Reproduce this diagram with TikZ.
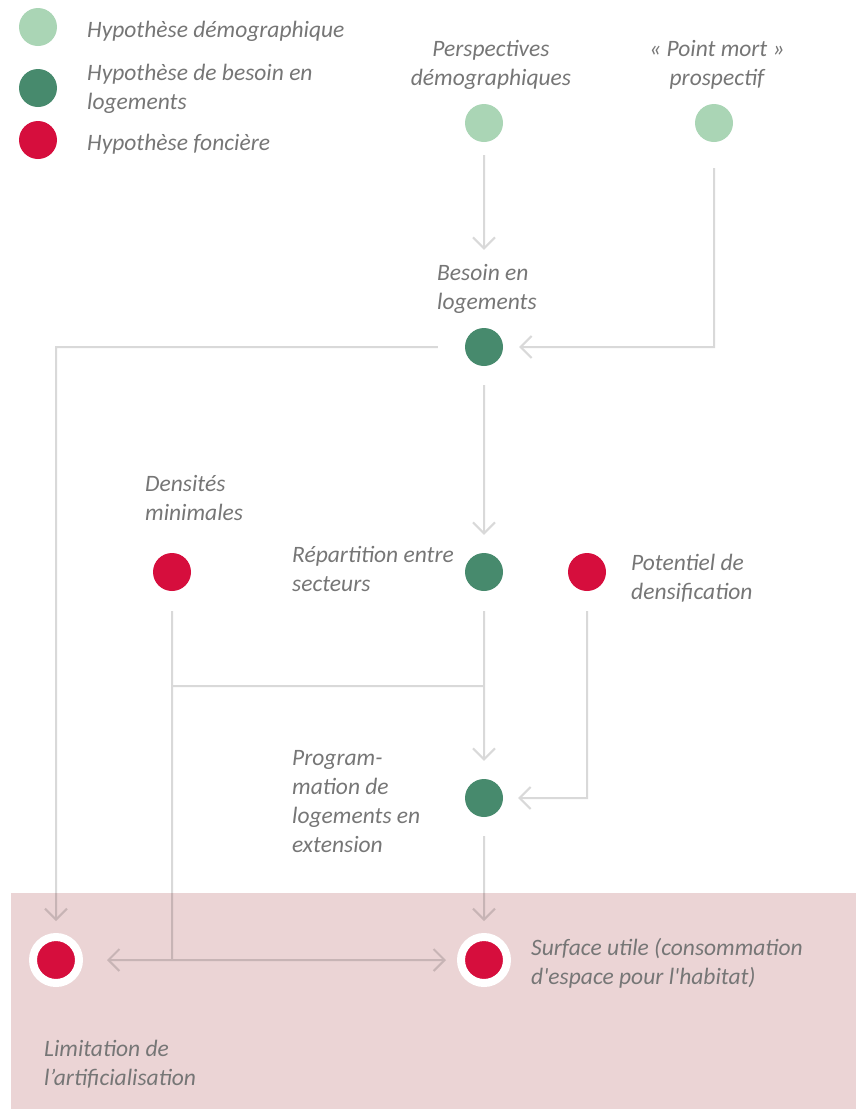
\documentclass[tikz,border=0pt]{standalone}
\usepackage{fontspec}
\setmainfont{Carlito}
\usetikzlibrary{arrows.meta}
\definecolor{lgreen}{HTML}{AAD5B5}
\definecolor{dgreen}{HTML}{478A6D}
\definecolor{cred}{HTML}{D60E3D}
\definecolor{pinkbg}{HTML}{EBD4D5}
\definecolor{txt}{HTML}{767676}
\tikzset{
  dot/.style={circle, minimum size=38pt, inner sep=0pt, draw=none},
  ldot/.style={dot, fill=lgreen},
  gdot/.style={dot, fill=dgreen},
  rdot/.style={dot, fill=cred},
  ringdot/.style={circle, minimum size=46pt, inner sep=0pt, fill=cred, draw=white, line width=8pt},
  lbl/.style={font=\fontsize{23.5}{29}\selectfont\itshape, text=txt, inner sep=0pt, align=left, anchor=base west},
  clbl/.style={lbl, align=center, anchor=base},
  barb/.tip={Straight Barb[length=11pt, width=22pt, line width=2pt]},
  conn/.style={draw=black, line width=2pt, -barb},
  plain/.style={draw=black, line width=2pt},
}
\begin{document}
\begin{tikzpicture}[x=1pt, y=-1pt]
\useasboundingbox (0,0) rectangle (865,1109);
\fill[pinkbg] (11,893) rectangle (856,1109);

% legend (multi-line labels are placed by the baseline of their last line)
\node[ldot] (leg1) at (38,27) {};
\node[gdot] (leg2) at (38,88) {};
\node[rdot] (leg3) at (38,140) {};
\node[lbl] (leg1t) at (87,37) {Hypothèse démographique};
\node[lbl] (leg2t) at (87,109) {Hypothèse de besoin en\\logements};
\node[lbl] (leg3t) at (87,150) {Hypothèse foncière};

% nodes
\node[ldot] (pd) at (484,123) {};
\node[clbl] (pdt) at (491,85) {Perspectives\\démographiques};
\node[ldot] (pm) at (714,123) {};
\node[clbl] (pmt) at (717,85) {« Point mort »\\prospectif};
\node[gdot] (bl) at (484,347) {};
\node[lbl] (blt) at (437,309) {Besoin en\\logements};
\node[rdot] (den) at (172,572) {};
\node[lbl] (dent) at (145,520) {Densités\\minimales};
\node[gdot] (rep) at (484,572) {};
\node[lbl] (rept) at (292,591) {Répartition entre\\secteurs};
\node[rdot] (pot) at (587,572) {};
\node[lbl] (pott) at (631,599) {Potentiel de\\densification};
\node[gdot] (prog) at (484,798) {};
\node[lbl] (progt) at (292,852) {Program-\\mation de\\logements en\\extension};
\node[ringdot] (lim) at (56,960) {};
\node[lbl] (limt) at (44,1085) {Limitation de\\l’artificialisation};
\node[ringdot] (surf) at (484,960) {};
\node[lbl] (surft) at (531,984) {Surface utile (consommation\\d\textquotesingle espace pour l\textquotesingle habitat)};

\coordinate (j1) at (172,686);
\coordinate (j2) at (172,960);

% connectors
\begin{scope}[transparency group, opacity=0.15]
\draw[conn, shorten <=13pt, shorten >=78pt] (pd) -- (bl);
\draw[conn, shorten <=26pt, shorten >=16pt] (pm) |- (bl);
\draw[conn, shorten <=27pt, shorten >=12pt] (bl) -| (lim);
\draw[conn, shorten <=19pt, shorten >=18pt] (bl) -- (rep);
\draw[conn, shorten <=20pt, shorten >=18pt] (rep) -- (prog);
\draw[plain, shorten <=20pt] (den) -- (j2);
\draw[plain] (j1) -- (j1 -| rep);
\draw[conn, shorten <=20pt, shorten >=15pt] (pot) |- (prog);
\draw[conn, shorten <=19pt, shorten >=12pt] (prog) -- (surf);
\draw[conn, barb-barb, shorten <=24pt, shorten >=11pt] (lim) -- (surf);
\end{scope}
\end{tikzpicture}
\end{document}
